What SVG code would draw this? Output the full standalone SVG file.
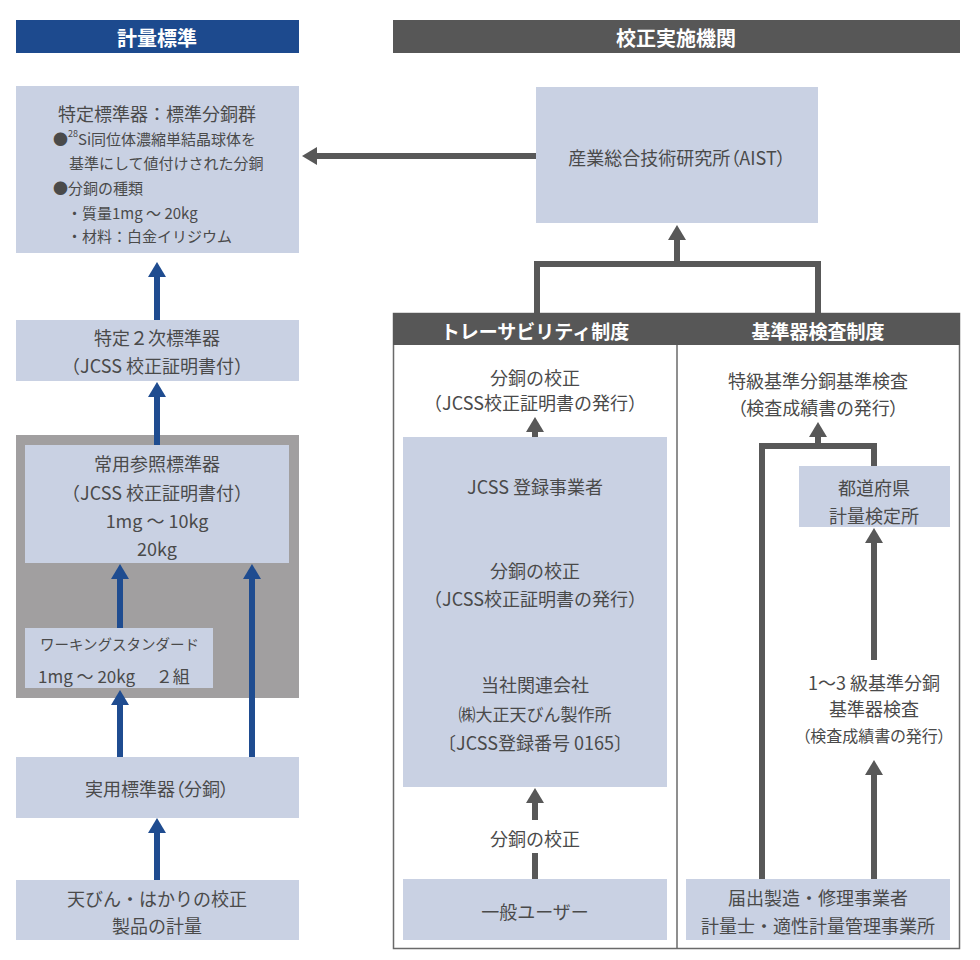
<svg xmlns="http://www.w3.org/2000/svg" width="980" height="960" viewBox="0 0 980 960">
<defs>
<style>
text{font-family:"Noto Sans CJK JP","Noto Sans",sans-serif;fill:#4a4a4a;font-size:18px;dominant-baseline:central}
.c{text-anchor:middle}
.p{font-feature-settings:"palt"}
.hd{fill:#fff;font-size:20px;font-weight:bold;text-anchor:middle}
.hd2{fill:#fff;font-size:19px;font-weight:bold;text-anchor:middle}
.box{fill:#c9d1e3}
.sm{font-size:15px}
.ba{stroke:#1f4c90;stroke-width:6;fill:none}
.ga{stroke:#585858;stroke-width:6;fill:none}
</style>
</defs>
<rect width="980" height="960" fill="#fff"/>

<g id="hdr-left"><rect x="16" y="20" width="283" height="33" fill="#1d4a8e"/><text class="hd" x="157" y="37">計量標準</text></g>
<g id="hdr-right"><rect x="393" y="20" width="567" height="33" fill="#575757"/><text class="hd" x="676" y="37">校正実施機関</text></g>

<g id="std-primary">
<rect class="box" x="16" y="86" width="283" height="167"/>
<text class="c" x="157" y="113">特定標準器：標準分銅群</text>
<text class="sm" x="53" y="138">●<tspan font-size="9" dy="-5">28</tspan><tspan dy="5">Si同位体濃縮単結晶球体を</tspan></text>
<text class="sm" x="69" y="162">基準にして値付けされた分銅</text>
<text class="sm" x="53" y="187">●分銅の種類</text>
<text class="sm" x="67" y="212">・質量1mg ～ 20kg</text>
<text class="sm" x="67" y="235">・材料：白金イリジウム</text>
</g>

<g id="std-secondary">
<rect class="box" x="16" y="320" width="283" height="61"/>
<text class="c" x="157" y="337">特定２次標準器</text>
<text class="c" x="157" y="365">（JCSS 校正証明書付）</text>
</g>

<g id="ref-group"><rect x="16" y="435" width="283" height="263" fill="#a19fa0"/></g>

<g id="std-reference">
<rect class="box" x="25" y="445" width="264" height="118"/>
<text class="c" x="157" y="463">常用参照標準器</text>
<text class="c" x="157" y="492">（JCSS 校正証明書付）</text>
<text class="c" x="157" y="520">1mg ～ 10kg</text>
<text class="c" x="157" y="548">20kg</text>
</g>

<g id="working">
<rect class="box" x="25" y="628" width="188" height="60"/>
<text x="40" y="643" style="font-size:14.5px">ワーキングスタンダード</text>
<text x="38" y="675" style="font-size:17px">1mg ～ 20kg　 ２組</text>
</g>

<g id="practical">
<rect class="box" x="16" y="757" width="283" height="61"/>
<text class="c p" x="157" y="788">実用標準器（分銅）</text>
</g>

<g id="usage">
<rect class="box" x="16" y="880" width="283" height="60"/>
<text class="c" x="157" y="898">天びん・はかりの校正</text>
<text class="c" x="157" y="925">製品の計量</text>
</g>

<g id="aist">
<rect class="box" x="536" y="87" width="282" height="136"/>
<text class="c p" x="677" y="157">産業総合技術研究所（AIST）</text>
</g>

<g id="panel">
<rect x="393.5" y="313.5" width="566" height="635" fill="#fff" stroke="#6a6a6a" stroke-width="1.5"/>
<rect x="393" y="313" width="567" height="32" fill="#575757"/>
<line x1="677" y1="345" x2="677" y2="949" stroke="#6a6a6a" stroke-width="1.5"/>
<text class="hd2" x="535" y="330">トレーサビリティ制度</text>
<text class="hd2" x="818" y="330">基準器検査制度</text>
</g>

<g id="trace-top">
<text class="c" x="535" y="377">分銅の校正</text>
<text class="c" x="535" y="402">（JCSS校正証明書の発行）</text>
</g>

<g id="jcss">
<rect class="box" x="403" y="437" width="264" height="350"/>
<text class="c" x="535" y="486">JCSS 登録事業者</text>
<text class="c" x="535" y="570">分銅の校正</text>
<text class="c" x="535" y="598">（JCSS校正証明書の発行）</text>
<text class="c" x="535" y="684">当社関連会社</text>
<text class="c" x="535" y="713" style="font-size:17px">㈱大正天びん製作所</text>
<text class="c" x="535" y="742">〔JCSS登録番号 0165〕</text>
</g>

<g id="trace-label">
<text class="c" x="535" y="838">分銅の校正</text>
</g>

<g id="general-user">
<rect class="box" x="403" y="879" width="264" height="61"/>
<text class="c" x="535" y="911">一般ユーザー</text>
</g>

<g id="insp-top">
<text class="c" x="818" y="380">特級基準分銅基準検査</text>
<text class="c p" x="818" y="407">（検査成績書の発行）</text>
</g>

<g id="prefecture">
<rect class="box" x="799" y="466" width="151" height="61"/>
<text class="c" x="874" y="487">都道府県</text>
<text class="c" x="874" y="515">計量検定所</text>
</g>

<g id="insp-mid">
<text class="c" x="874" y="682">1〜3 級基準分銅</text>
<text class="c" x="874" y="708">基準器検査</text>
<text class="c p" x="874" y="735" style="font-size:16px">（検査成績書の発行）</text>
</g>

<g id="makers">
<rect class="box" x="686" y="879" width="264" height="61"/>
<text class="c" x="818" y="897">届出製造・修理事業者</text>
<text class="c" x="818" y="925">計量士・適性計量管理事業所</text>
</g>

<g id="connectors">
<path class="ba" d="M157 320 V276" />
<path d="M148 277 L157 262 L166 277 Z" fill="#1f4c90"/>
<path class="ba" d="M157 445 V396" />
<path d="M148 397 L157 382 L166 397 Z" fill="#1f4c90"/>
<path class="ba" d="M120 628 V578" />
<path d="M111 579 L120 564 L129 579 Z" fill="#1f4c90"/>
<path class="ba" d="M252 757 V578" />
<path d="M243 579 L252 564 L261 579 Z" fill="#1f4c90"/>
<path class="ba" d="M120 757 V704" />
<path d="M111 705 L120 690 L129 705 Z" fill="#1f4c90"/>
<path class="ba" d="M157 880 V832" />
<path d="M148 833 L157 818 L166 833 Z" fill="#1f4c90"/>
<path class="ga" d="M536 156 H316" />
<path d="M317 147 L302 156 L317 165 Z" fill="#585858"/>
<path class="ga" d="M537 313 V264 H818 V313" />
<path class="ga" d="M677 264 V239" />
<path d="M668 240 L677 225 L686 240 Z" fill="#585858"/>
<path class="ga" d="M535 437 V431" />
<path d="M526 432 L535 417 L544 432 Z" fill="#585858"/>
<path class="ga" d="M535 820 V802" />
<path d="M526 803 L535 788 L544 803 Z" fill="#585858"/>
<path class="ga" d="M535 853 V879" />
<path class="ga" d="M762 879 V446 H874 V466" />
<path class="ga" d="M818 446 V436" />
<path d="M809 437 L818 422 L827 437 Z" fill="#585858"/>
<path class="ga" d="M874 660 V542" />
<path d="M865 543 L874 528 L883 543 Z" fill="#585858"/>
<path class="ga" d="M874 879 V774" />
<path d="M865 775 L874 760 L883 775 Z" fill="#585858"/>
</g>
</svg>
